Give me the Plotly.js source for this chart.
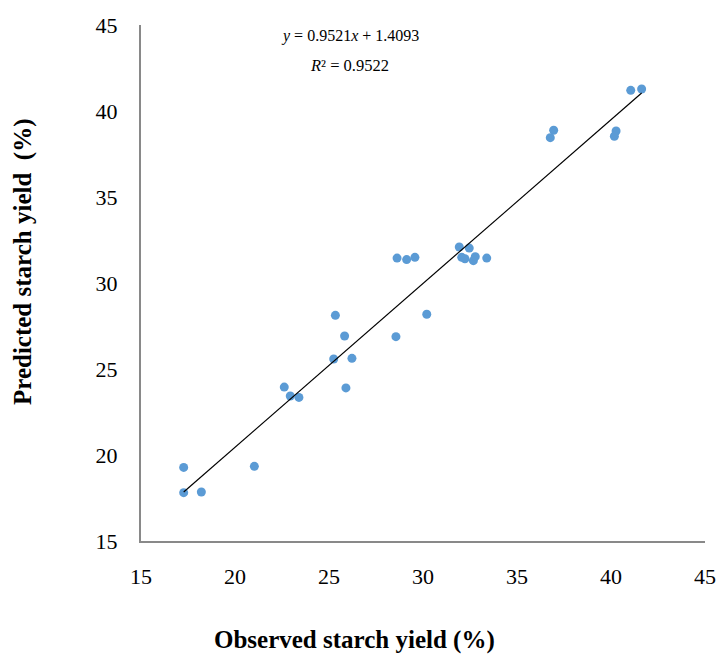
<!DOCTYPE html>
<html>
<head>
<meta charset="utf-8">
<script src="https://cdn.plot.ly/plotly-3.0.1.min.js"></script>
<style>html,body{margin:0;padding:0;background:#fff;}#chart{width:716px;height:656px;}</style>
</head>
<body>
<div id="chart"></div>
<script>
const observed = [17.27, 17.27, 18.21, 21.03, 22.62, 22.94, 23.40, 25.90, 25.25, 26.22, 25.34, 25.83, 28.56, 30.20,
  28.62, 29.13, 29.57, 31.93, 32.46, 32.06, 32.23, 32.68, 32.78, 33.39, 36.95, 36.77, 40.27, 40.18, 41.05, 41.63];
const predicted = [19.28, 17.81, 17.85, 19.34, 23.95, 23.43, 23.35, 23.90, 25.58, 25.62, 28.12, 26.92, 26.88, 28.18,
  31.45, 31.36, 31.49, 32.09, 32.03, 31.49, 31.41, 31.30, 31.53, 31.45, 38.88, 38.45, 38.84, 38.53, 41.20, 41.28];
const slope = [0.9521];
const intercept = [1.4093];
const rSquared = [0.9522];
const tickValues = [15, 20, 25, 30, 35, 40, 45];
const xTitle = 'Observed starch yield (%)';
const yTitle = 'Predicted starch yield  (%)';

const xMin = Math.min(...observed), xMax = Math.max(...observed);
const trendX = [xMin, xMax];
const trendY = trendX.map(v => slope[0] * v + intercept[0]);

const serif = '"Liberation Serif", "DejaVu Serif", serif';

const data = [
  {x: observed, y: predicted, type: 'scatter', mode: 'markers',
   marker: {color: '#5B9BD5', size: 9}, hoverinfo: 'x+y'},
  {x: trendX, y: trendY, type: 'scatter', mode: 'lines',
   line: {color: '#000000', width: 1.2}, hoverinfo: 'skip'}
];

const layout = {
  width: 716, height: 656,
  margin: {l: 141, r: 11, t: 25, b: 115},
  paper_bgcolor: '#fff', plot_bgcolor: '#fff',
  showlegend: false,
  font: {family: serif, color: '#000', size: 20},
  xaxis: {
    range: [15, 45], tickvals: tickValues, ticktext: tickValues.map(String),
    showgrid: false, zeroline: false, showline: true, linecolor: '#898989', linewidth: 2,
    ticks: '', ticklabelstandoff: 15, tickfont: {family: serif, size: 22, color: '#000'}
  },
  yaxis: {
    range: [15, 45], tickvals: tickValues, ticktext: tickValues.map(String),
    showgrid: false, zeroline: false, showline: true, linecolor: '#898989', linewidth: 2,
    ticks: '', ticklabelstandoff: 17, tickfont: {family: serif, size: 22, color: '#000'}
  },
  annotations: [
    {xref: 'paper', yref: 'paper', x: 0.37, y: 0.978, xanchor: 'center', yanchor: 'middle', showarrow: false,
     text: '<i>y</i> = ' + slope[0].toFixed(4) + '<i>x</i> + ' + intercept[0].toFixed(4),
     font: {family: serif, size: 16, color: '#000'}},
    {xref: 'paper', yref: 'paper', x: 0.369, y: 0.922, xanchor: 'center', yanchor: 'middle', showarrow: false,
     text: '<i>R</i>² = ' + rSquared[0].toFixed(4),
     font: {family: serif, size: 16.5, color: '#000'}},
    {xref: 'paper', yref: 'paper', x: 0.378, y: -0.1919, xanchor: 'center', yanchor: 'middle', showarrow: false,
     text: '<b>' + xTitle + '</b>', font: {family: serif, size: 25, color: '#000'}},
    {xref: 'paper', yref: 'paper', x: -0.2092, y: 0.5407, xanchor: 'center', yanchor: 'middle', showarrow: false,
     textangle: -90, text: '<b>' + yTitle.replace(/  /g, ' &nbsp;') + '</b>', font: {family: serif, size: 25, color: '#000'}}
  ]
};

Plotly.newPlot('chart', data, layout, {displayModeBar: false, staticPlot: true});
</script>
</body>
</html>
